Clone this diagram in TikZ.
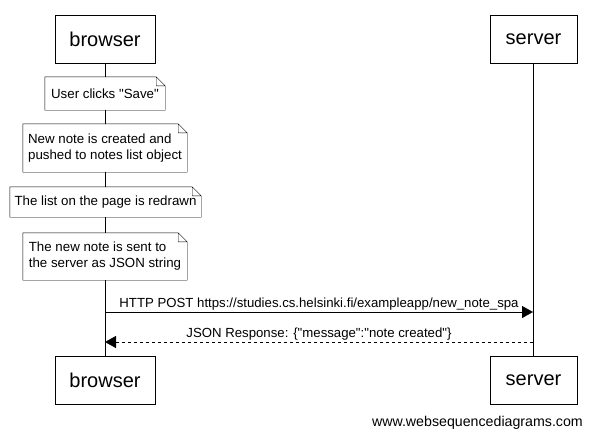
\documentclass[tikz,border=0pt]{standalone}
\usepackage{fontspec}
\setmainfont{Liberation Sans}[Ligatures=TeXOff]
\usetikzlibrary{arrows.meta, positioning, calc}

\begin{document}
\begin{tikzpicture}[
        x=1pt, y=-1pt,
        actor/.style={draw, fill=white, minimum height=48pt, font=\fontsize{20}{24}\selectfont},
        note/.style={fill=white, inner sep=0pt, align=left, font=\fontsize{13.3}{16}\selectfont},
        msg/.style={-{Triangle[length=11pt,width=12pt]}},
        reply/.style={msg, dashed},
        label/.style={font=\fontsize{13.2}{16}\selectfont, inner sep=2pt}
    ]
        \useasboundingbox (0,0) rectangle (591,439);

        % Participants
        \node[actor, minimum width=100pt] (browser) at (105,39.5) {browser};
        \node[actor, minimum width=87pt] (server) at (533.5,39.5) {server};
        \node[actor, minimum width=100pt] (browser2) at (105,380) {browser};
        \node[actor, minimum width=87pt] (server2) at (533.5,380) {server};

        % Lifelines
        \draw (browser.south) -- (browser2.north);
        \draw (server.south) -- (server2.north);

        % Notes
        \node[note, minimum width=120pt, minimum height=33pt] (save) at (105,93.5) {User clicks "Save"};
        \node[note, minimum width=164pt, minimum height=48pt] (create) at (105,148) {New note is created and\\pushed to notes list object};
        \node[note, minimum width=191pt, minimum height=30pt] (redraw) at (105.5,202) {The list on the page is redrawn};
        \node[note, minimum width=164pt, minimum height=47pt] (send) at (105,256.5) {The new note is sent to\\the server as JSON string};
        \foreach \n in {save, create, redraw, send}
            \draw (\n.south west) -- (\n.north west) -- ([xshift=-9pt]\n.north east)
                -- ([yshift=-9pt]\n.north east) -- (\n.south east) -- cycle
                ([xshift=-9pt]\n.north east) |- ([yshift=-9pt]\n.north east);

        % Messages
        \coordinate (postL) at (105,312);
        \coordinate (postR) at (533,312);
        \coordinate (jsonL) at (105,342);
        \coordinate (jsonR) at (533,342);
        \draw[msg] (postL) -- node[label, above] {HTTP POST https://studies.cs.helsinki.fi/exampleapp/new\_note\_spa} (postR);
        \draw[reply] (jsonR) -- node[label, above] {JSON Response: \{"message":"note created"\}} (jsonL);

        % Watermark
        \node[label, anchor=east, inner sep=0pt, font=\fontsize{14.2}{16}\selectfont] (site) at (583,423) {www.websequencediagrams.com};
    \end{tikzpicture}
\end{document}
